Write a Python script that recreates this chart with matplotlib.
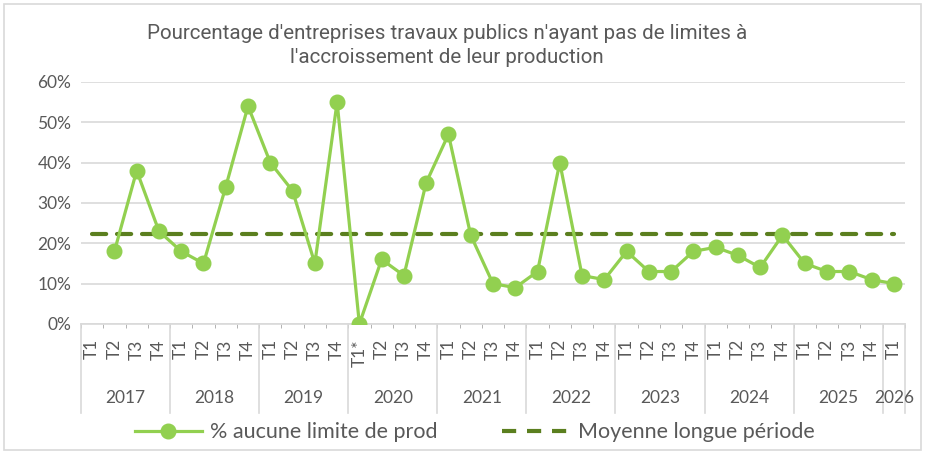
import numpy as np
import matplotlib.pyplot as plt
from matplotlib.patches import Rectangle
from matplotlib.ticker import PercentFormatter
from matplotlib.lines import Line2D

years = ["2017", "2018", "2019", "2020", "2021", "2022", "2023", "2024", "2025", "2026"]
quarters = (["T1", "T2", "T3", "T4"] * 3 + ["T1*", "T2", "T3", "T4"]
            + ["T1", "T2", "T3", "T4"] * 5 + ["T1"])
year_sizes = [4, 4, 4, 4, 4, 4, 4, 4, 4, 1]

pct_no_limit = [np.nan, 18, 38, 23,
                18, 15, 34, 54,
                40, 33, 15, 55,
                0, 16, 12, 35,
                47, 22, 10, 9,
                13, 40, 12, 11,
                18, 13, 13, 18,
                19, 17, 14, 22,
                15, 13, 13, 11,
                10]
long_run_avg = 22.4

TEXT = "#595959"
GRID = "#d9d9d9"
GREEN = "#92d050"
DARK_GREEN = "#5b7f1f"

plt.rcParams["font.family"] = ["Lato", "DejaVu Sans"]

fig = plt.figure(figsize=(9.27, 4.55), dpi=100)
fig.patches.append(Rectangle((0.004, 0.01), 0.99, 0.982, transform=fig.transFigure,
                             fill=False, edgecolor=GRID, linewidth=1.2))
ax = fig.add_axes([0.0874, 0.288, 0.8888, 0.532])

x = np.arange(len(quarters))
vals = np.array(pct_no_limit, dtype=float)
ax.plot(x, vals, color=GREEN, lw=2.3, marker="o", ms=10.5, zorder=3)
ax.plot(x, np.full(len(x), long_run_avg), color=DARK_GREEN, lw=3,
        dashes=(3.4, 2.6), dash_capstyle="round", zorder=2)

ax.set_xlim(-0.5, len(x) - 0.5)
ax.set_ylim(0, 60)
ax.set_yticks(range(0, 61, 10))
ax.yaxis.set_major_formatter(PercentFormatter(decimals=0))
ax.grid(axis="y", color=GRID, lw=1.2)
ax.set_axisbelow(True)
for s in ["top", "right", "left"]:
    ax.spines[s].set_visible(False)
ax.spines["bottom"].set_color(GRID)
ax.spines["bottom"].set_linewidth(1.2)
ax.tick_params(axis="y", length=0, labelsize=12.5, labelcolor=TEXT, pad=7)

ax.set_xticks(x)
ax.set_xticklabels(quarters, rotation=90, va="top")
ax.tick_params(axis="x", length=0, labelsize=12.5, labelcolor=TEXT, pad=11)
ax.set_xticks(np.arange(-0.5, len(x), 1), minor=True)
ax.tick_params(axis="x", which="minor", length=3, color="#a6a6a6")

# year group separators and labels below the quarter labels
trans = ax.get_xaxis_transform()
start = 0
for yr, n in zip(years, year_sizes):
    left = start - 0.5
    ax.plot([left, left], [0, -0.368], transform=trans, color=GRID, lw=1.2,
            clip_on=False)
    ax.text(start + (n - 1) / 2, -0.306, yr, transform=trans, ha="center",
            va="center", fontsize=12.5, color=TEXT)
    start += n
ax.plot([start - 0.5, start - 0.5], [0, -0.368], transform=trans, color=GRID,
        lw=1.2, clip_on=False)

fig.text(0.482, 0.9,
         "Pourcentage d'entreprises travaux publics n'ayant pas de limites à\n"
         "l'accroissement de leur production",
         ha="center", va="center", fontsize=14.8, color=TEXT, linespacing=1.35,
         family=["Roboto", "DejaVu Sans"])

handles = [Line2D([], [], color=GREEN, lw=2.3, marker="o", ms=10.5),
           Line2D([], [], color=DARK_GREEN, lw=3, dashes=(3.4, 2.6))]
leg = fig.legend(handles, ["% aucune limite de prod", "Moyenne longue période"],
                 loc="center", bbox_to_anchor=(0.512, 0.05), ncol=2, frameon=False,
                 fontsize=15.5, handlelength=3.1, columnspacing=3.0, handletextpad=0.4)
for t in leg.get_texts():
    t.set_color(TEXT)

fig.savefig("out.png", dpi=100)
